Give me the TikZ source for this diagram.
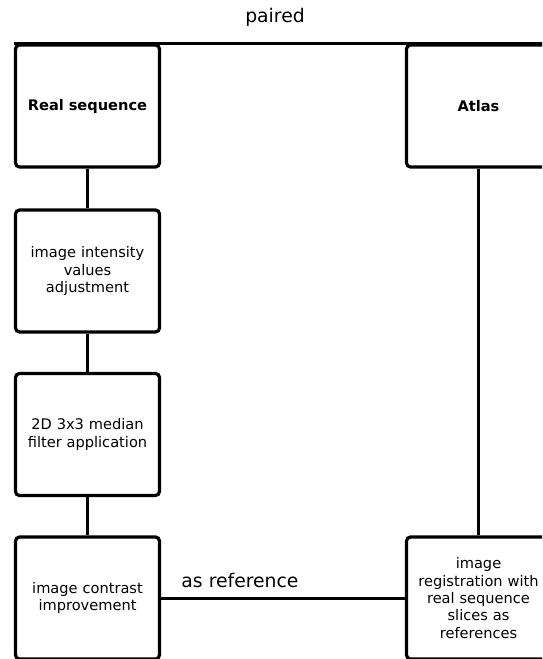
\documentclass[tikz,border=0pt]{standalone}
\usepackage{fontspec}
\setmainfont{DejaVu Sans}
\begin{document}
\begin{tikzpicture}[x=1pt,y=-1pt,
  stepbox/.style={draw, line width=3.2pt, rounded corners=4pt, fill=white,
    minimum width=144pt, minimum height=122pt, inner sep=2pt,
    align=center, font=\fontsize{14.6}{17.4}\selectfont, text width=140pt},
  link/.style={line width=3pt},
  tag/.style={font=\fontsize{18.8}{20}\selectfont, inner sep=0pt}]
\useasboundingbox (0,0) rectangle (542,659);
\clip (0,0) rectangle (542,659);

% processing chain of the real sequence
\node[stepbox] (rs)  at (87.5,106) {\bfseries Real sequence};
\node[stepbox] (adj) at (87.5,271) {image intensity\\values\\adjustment};
\node[stepbox] (med) at (87.5,434.5) {2D 3x3 median\\filter application};
\node[stepbox] (con) at (87.5,598) {image contrast\\improvement};

% atlas branch
\node[stepbox] (atlas) at (478.5,106) {\bfseries Atlas};
\node[stepbox] (reg)   at (478.5,598) {image\\registration with\\real sequence\\slices as\\references};

% connectors
\draw[link] (rs.north west) -- (atlas.north east);
\node[tag] (paired) at (275,17) {paired};
\draw[link] (rs) -- (adj);
\draw[link] (adj) -- (med);
\draw[link] (med) -- (con);
\draw[link] (atlas) -- (reg);
\draw[link] (con) -- (reg);
\node[tag] (asref) at (240,580) {as reference};
\end{tikzpicture}
\end{document}
